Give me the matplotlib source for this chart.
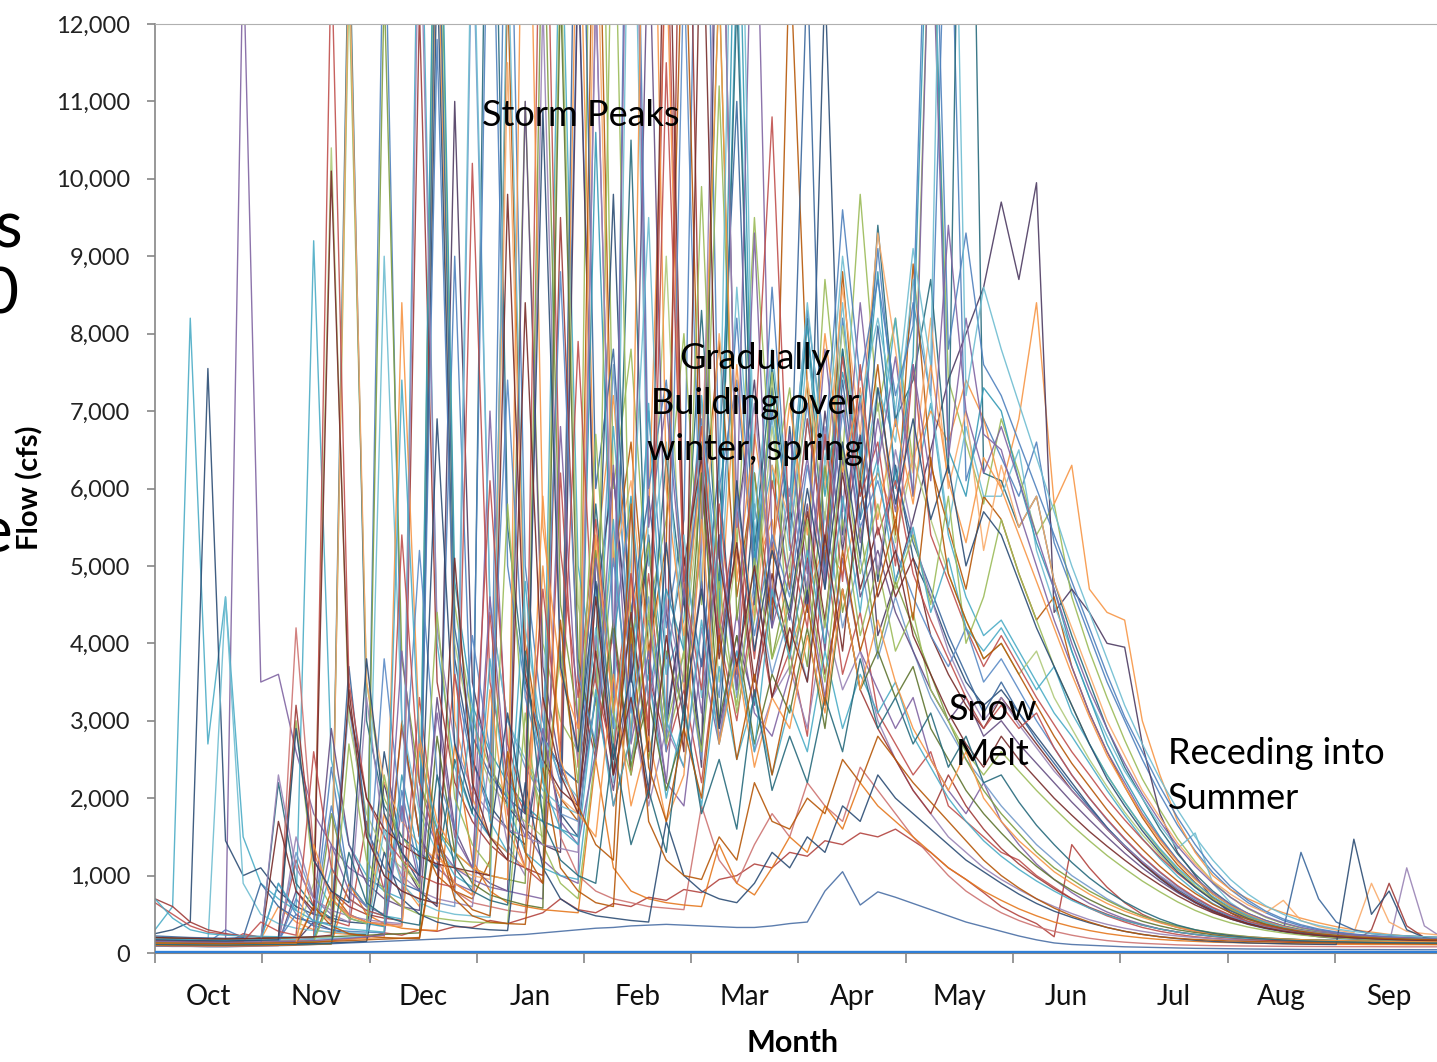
#daily flow by water year, one line per year
import matplotlib
matplotlib.use("Agg")
import matplotlib.pyplot as plt
from matplotlib.ticker import FuncFormatter

plt.rcParams['font.family'] = ['Lato', 'DejaVu Sans']

#flow (cfs) read every 5 days from Oct 1 (74 points per year)
days = list(range(0, 366, 5))
months = ['Oct', 'Nov', 'Dec', 'Jan', 'Feb', 'Mar',
          'Apr', 'May', 'Jun', 'Jul', 'Aug', 'Sep']

yr01 = [150, 140, 130, 135, 300, 200, 180, 900, 500, 350, 2400, 900,
        600, 14000, 3000, 1500, 1100, 9000, 2500, 1800, 16000, 5000, 3000, 2200,
        13000, 4500, 6200, 3600, 7000, 4200, 5600, 18000, 6000, 7400, 4800, 8600,
        5400, 7100, 5200, 8200, 6400, 9100, 6800, 8400, 7200, 15000, 6100, 6900,
        6400, 5900, 6600, 5300, 4700, 4100, 3500, 3000, 2500, 2050, 1650, 1320,
        1040, 820, 650, 520, 420, 350, 300, 265, 240, 222, 208, 197, 188, 182]
yr02 = [120, 110, 115, 105, 110, 250, 200, 170, 1200, 600, 420, 350,
        1700, 800, 600, 3300, 1300, 900, 750, 4400, 1800, 1100, 900, 6200,
        2400, 3600, 1900, 2800, 4900, 2600, 3400, 2200, 4100, 3000, 4600, 3300,
        3900, 2800, 5200, 3600, 4400, 3100, 2700, 2300, 2600, 1900, 1700, 1500,
        1300, 1200, 1000, 850, 700, 580, 480, 400, 330, 280, 240, 210,
        190, 175, 165, 155, 150, 145, 140, 138, 135, 132, 130, 128, 126, 125]
yr03 = [200, 180, 170, 160, 150, 160, 170, 160, 3000, 1000, 600, 12500,
        3500, 2000, 1500, 1200, 16000, 4500, 3000, 2400, 2000, 11000, 4000, 3000,
        2600, 20000, 6000, 7800, 4400, 5600, 8000, 4500, 11200, 5200, 9500, 6000,
        7300, 5100, 8700, 6400, 9800, 7000, 8200, 6300, 14000, 7400, 6600, 5800,
        6900, 6200, 5400, 5800, 4600, 3900, 3300, 2750, 2250, 1850, 1480, 1180,
        920, 720, 570, 460, 380, 320, 280, 250, 228, 212, 200, 190, 183, 177]
yr04 = [90, 95, 100, 110, 150, 13000, 3500, 3600, 2600, 1800, 1400, 1100,
        950, 850, 2900, 1500, 1100, 900, 800, 7000, 2400, 1600, 1200, 1000,
        900, 12500, 4000, 2500, 3600, 2200, 1900, 3800, 2700, 4400, 3100, 2800,
        3600, 4700, 3300, 5100, 3900, 3400, 2900, 3300, 2500, 2100, 1800, 2200,
        1700, 1400, 1150, 950, 780, 640, 530, 440, 370, 310, 270, 240,
        215, 200, 185, 175, 168, 160, 155, 150, 147, 144, 140, 138, 135, 132]
yr05 = [300, 600, 8200, 2700, 4600, 1500, 900, 700, 550, 9200, 2500, 1400,
        1000, 800, 700, 15000, 4000, 2400, 1800, 1500, 1300, 3800, 2200, 14000,
        5000, 3500, 6800, 3900, 5200, 3600, 4300, 7200, 4400, 12800, 5100, 6300,
        4700, 6900, 5300, 7800, 5600, 6400, 8200, 5900, 7100, 5400, 4600, 4100,
        4300, 3900, 3500, 3100, 2800, 2450, 2100, 1780, 1480, 1220, 990, 800,
        640, 520, 430, 360, 310, 272, 244, 226, 212, 201, 195, 190, 185, 180]
yr06 = [180, 170, 165, 160, 160, 170, 175, 600, 400, 300, 260, 240,
        230, 1800, 900, 600, 14000, 3000, 2000, 1500, 1300, 1100, 5000, 2500,
        14500, 5000, 7200, 4300, 5600, 13000, 4500, 6800, 4100, 7600, 4900, 5600,
        3900, 4600, 5300, 4900, 5800, 6200, 5600, 6400, 7000, 6600, 7400, 6900,
        6000, 6900, 8400, 5800, 6300, 4700, 4400, 4300, 3000, 2300, 1700, 1300,
        1000, 820, 700, 600, 520, 450, 390, 340, 300, 270, 240, 220, 210, 200]
yr07 = [90, 85, 85, 80, 80, 85, 90, 95, 100, 110, 120, 130,
        140, 150, 160, 170, 180, 190, 200, 210, 230, 240, 260, 280,
        300, 320, 330, 350, 360, 370, 360, 350, 340, 330, 330, 350,
        380, 400, 800, 1050, 620, 790, 720, 640, 560, 480, 400, 340,
        280, 220, 170, 130, 110, 100, 90, 80, 75, 70, 65, 60,
        58, 55, 52, 50, 48, 46, 45, 45, 44, 44, 43, 43, 42, 42]
yr08 = [110, 105, 100, 100, 105, 110, 115, 120, 130, 140, 160, 180,
        200, 260, 230, 300, 280, 340, 330, 420, 380, 450, 520, 700,
        560, 520, 640, 600, 720, 680, 820, 780, 950, 1000, 1150, 1100,
        1300, 1250, 1450, 1400, 1550, 1500, 1600, 1450, 1300, 1100, 950, 780,
        600, 480, 380, 210, 1400, 1100, 850, 650, 500, 400, 330, 280,
        240, 210, 190, 170, 160, 150, 140, 135, 130, 125, 120, 120, 115, 115]
yr09 = [250, 300, 400, 7550, 1450, 1000, 1100, 800, 600, 500, 450, 400,
        380, 2600, 1300, 900, 12800, 3800, 2500, 1900, 1600, 1400, 2800, 1800,
        1500, 3900, 9800, 3500, 5400, 2900, 4600, 2600, 6100, 3400, 5800, 4200,
        6800, 4500, 12600, 5400, 7200, 4800, 6300, 5100, 4600, 4000, 3500, 3200,
        3400, 3100, 2800, 2500, 2200, 1900, 1620, 1370, 1150, 960, 790, 650,
        530, 440, 370, 315, 275, 245, 222, 206, 193, 182, 173, 165, 158, 152]
yr10 = [140, 130, 125, 120, 120, 125, 130, 140, 150, 400, 300, 250,
        240, 2200, 1200, 800, 600, 11000, 3500, 2400, 1900, 1600, 1400, 1300,
        12800, 4500, 6200, 3500, 5200, 3000, 4600, 2400, 16000, 5500, 7400, 4500,
        5800, 4400, 7000, 5200, 6700, 4100, 4800, 5600, 6500, 7400, 8000, 8600,
        9700, 8700, 9950, 4400, 4700, 4400, 4000, 3950, 2700, 1800, 1300, 1000,
        700, 520, 400, 330, 280, 240, 210, 190, 180, 170, 160, 155, 150, 150]
yr11 = [160, 150, 145, 140, 140, 150, 160, 2200, 900, 600, 450, 13500,
        3000, 1900, 1500, 1300, 1100, 2500, 1800, 18000, 5500, 3500, 2800, 2400,
        2200, 5800, 3400, 10500, 3600, 6400, 4500, 8300, 4700, 12300, 5200, 7600,
        5600, 8200, 4900, 7800, 6100, 9400, 6900, 7400, 8700, 6200, 20000, 6200,
        6100, 5500, 5900, 4800, 4100, 3500, 2900, 2400, 2000, 1600, 1280, 1020,
        800, 630, 510, 420, 350, 300, 265, 240, 220, 205, 195, 188, 182, 177]
yr12 = [130, 125, 120, 120, 115, 120, 125, 130, 140, 160, 800, 500,
        400, 350, 3000, 1500, 1000, 800, 700, 1200, 12500, 4000, 2500, 2000,
        1700, 16000, 5000, 6600, 3900, 5300, 14000, 5500, 7900, 4600, 6200, 4300,
        13000, 7300, 4900, 8800, 6000, 7600, 5400, 8900, 6300, 5500, 4700, 5900,
        5600, 4900, 4300, 4600, 3700, 3100, 2600, 2150, 1750, 1420, 1140, 910,
        720, 580, 470, 390, 330, 285, 252, 228, 211, 198, 190, 183, 178, 172]
yr13 = [200, 190, 180, 175, 170, 180, 190, 200, 1300, 700, 500, 3200,
        1500, 1000, 800, 700, 650, 600, 13500, 4500, 3000, 2400, 2000, 1800,
        1700, 3300, 7600, 3200, 4600, 2700, 3900, 2500, 5400, 3300, 4800, 3600,
        4400, 3500, 5700, 4200, 5100, 3800, 4600, 3900, 3300, 2900, 2500, 2200,
        1900, 1650, 1400, 1200, 1000, 850, 700, 580, 480, 400, 340, 290,
        255, 230, 210, 195, 182, 172, 165, 160, 155, 150, 146, 142, 140, 138]
yr14 = [95, 90, 90, 88, 88, 90, 92, 95, 4200, 1300, 700, 500,
        400, 380, 360, 2800, 1200, 800, 650, 600, 550, 520, 3300, 1500,
        1000, 800, 700, 650, 600, 580, 560, 1900, 1200, 900, 1400, 1800,
        1500, 2200, 1900, 1700, 2400, 2100, 1800, 1500, 1250, 1000, 800, 650,
        520, 420, 340, 280, 230, 190, 160, 140, 125, 115, 105, 100,
        95, 92, 90, 88, 86, 85, 84, 83, 82, 82, 81, 80, 80, 80]
yr15 = [170, 160, 155, 150, 150, 160, 170, 180, 200, 900, 10400, 3000,
        1800, 1300, 1100, 900, 15000, 4000, 2800, 2200, 1900, 1700, 1500, 13000,
        4500, 3200, 5300, 2900, 4100, 9000, 3800, 6100, 3500, 5200, 4400, 6800,
        4900, 7400, 5600, 8100, 6000, 7100, 5300, 6400, 5600, 4900, 4300, 3800,
        4000, 3600, 3900, 3300, 2900, 2500, 2150, 1820, 1530, 1270, 1040, 850,
        690, 560, 460, 385, 328, 284, 250, 228, 211, 198, 189, 182, 177, 172]
yr16 = [110, 105, 100, 100, 98, 100, 105, 110, 1500, 700, 500, 400,
        3300, 1500, 1000, 800, 700, 650, 600, 2600, 1400, 1000, 12300, 3800,
        2500, 4100, 2300, 3200, 1900, 2900, 2400, 4200, 2800, 3900, 2600, 3300,
        3700, 2900, 4300, 3400, 3900, 3000, 2500, 2100, 1800, 1500, 1300, 1100,
        950, 820, 700, 600, 510, 430, 370, 320, 280, 245, 220, 200,
        185, 172, 160, 150, 142, 135, 130, 128, 126, 125, 124, 1100, 350, 200]
yr17 = [130, 125, 120, 118, 4600, 900, 500, 380, 320, 290, 270, 260,
        250, 9000, 3000, 1800, 1300, 1100, 14000, 4500, 3000, 2500, 2100, 1900,
        1800, 4700, 2200, 16000, 5000, 6600, 3900, 7100, 4200, 8600, 5400, 6900,
        5200, 7800, 6100, 8400, 5900, 7300, 6600, 8700, 7200, 5500, 6800, 5900,
        5900, 6500, 5200, 4500, 3900, 3300, 2800, 2350, 2000, 1650, 1350, 1550,
        900, 650, 500, 400, 335, 290, 258, 235, 218, 205, 195, 188, 182, 177]
yr18 = [140, 135, 130, 130, 128, 130, 135, 140, 150, 600, 400, 13000,
        3500, 2200, 1700, 1400, 1200, 1100, 1000, 950, 11500, 3800, 2500, 2000,
        1800, 14000, 5000, 6100, 3800, 5200, 3400, 4700, 8000, 5900, 4300, 6300,
        5600, 7400, 6000, 8600, 6700, 9300, 7800, 6200, 8200, 6000, 7000, 5200,
        6300, 5500, 5900, 4800, 4200, 3600, 3000, 2550, 2100, 1750, 1420, 1150,
        930, 760, 620, 520, 680, 420, 340, 295, 262, 900, 400, 280, 250, 230]
yr19 = [220, 210, 200, 195, 190, 200, 900, 600, 450, 400, 380, 3700,
        1600, 1100, 900, 800, 14500, 4200, 2800, 2300, 2000, 1800, 1700, 1600,
        17000, 6000, 7800, 4400, 5900, 3800, 5100, 3700, 6400, 11000, 4500, 7300,
        5500, 12800, 4700, 7400, 5600, 8100, 6200, 5300, 4700, 4100, 3600, 3100,
        3500, 3100, 2750, 2450, 2150, 1880, 1620, 1390, 1180, 990, 820, 680,
        560, 470, 400, 345, 300, 1300, 700, 400, 300, 250, 230, 220, 210, 200]
yr20 = [700, 600, 400, 300, 250, 220, 210, 200, 3200, 1200, 800, 600,
        500, 450, 420, 12200, 3500, 2200, 1700, 1400, 1200, 1100, 1000, 9500,
        3500, 2500, 4200, 2300, 3600, 2700, 18000, 6000, 4000, 5200, 3300, 4600,
        3900, 5100, 3600, 4700, 3400, 2900, 2500, 2100, 1800, 2300, 1900, 1600,
        1350, 1150, 980, 830, 700, 590, 500, 420, 360, 310, 270, 240,
        215, 195, 180, 168, 160, 152, 146, 141, 137, 300, 900, 350, 200, 170]
yr21 = [160, 150, 145, 140, 140, 145, 150, 160, 170, 180, 1800, 900,
        600, 12500, 3800, 2200, 1600, 1300, 1100, 1000, 950, 900, 14000, 4500,
        3000, 5200, 2700, 4300, 2500, 3900, 3100, 5600, 12600, 4300, 6200, 3800,
        4900, 3700, 6300, 4400, 5500, 3900, 4800, 4200, 3600, 3000, 2500, 2100,
        1800, 1550, 1300, 1100, 950, 800, 680, 570, 480, 410, 350, 300,
        262, 235, 212, 195, 182, 172, 165, 160, 157, 154, 152, 150, 148, 146]
yr22 = [120, 115, 110, 108, 105, 110, 115, 120, 800, 500, 2900, 1400,
        900, 700, 600, 550, 3300, 1600, 1100, 900, 800, 11000, 3700, 2400,
        1900, 3300, 2100, 3700, 13500, 4400, 3000, 4800, 2900, 4100, 3200, 5300,
        4300, 5800, 3900, 6400, 4600, 5200, 4400, 3900, 3400, 3000, 3300, 2800,
        3000, 2700, 2450, 2200, 1950, 1720, 1500, 1290, 1100, 930, 780, 650,
        540, 450, 380, 325, 285, 254, 230, 212, 198, 186, 177, 170, 163, 158]
yr23 = [150, 145, 140, 140, 135, 140, 145, 150, 160, 175, 700, 450,
        380, 340, 2300, 1200, 16500, 4800, 3200, 2600, 2200, 1900, 1700, 1600,
        1500, 10600, 4000, 5900, 3300, 4700, 3900, 6600, 4200, 15000, 5000, 7200,
        5600, 8100, 5900, 7500, 6400, 8800, 6000, 7700, 15000, 6500, 5900, 7300,
        7000, 6100, 5300, 4700, 3900, 3300, 2700, 2250, 1850, 1500, 1200, 960,
        760, 610, 490, 400, 335, 288, 255, 232, 215, 202, 192, 185, 180, 176]
yr24 = [100, 98, 96, 95, 95, 96, 98, 100, 105, 110, 115, 900,
        500, 380, 320, 300, 290, 2700, 1200, 800, 650, 600, 560, 540,
        520, 2500, 1100, 800, 700, 650, 620, 600, 1400, 900, 750, 1100,
        1500, 1300, 1900, 1600, 2200, 1900, 1700, 1500, 1300, 1100, 950, 800,
        680, 570, 480, 400, 340, 290, 250, 220, 195, 175, 160, 150,
        140, 135, 130, 125, 120, 118, 115, 113, 112, 110, 110, 108, 108, 106]
yr25 = [180, 170, 160, 155, 150, 155, 160, 170, 500, 350, 300, 280,
        270, 260, 2100, 1000, 11800, 3600, 2400, 15500, 5000, 3400, 2800, 2400,
        2200, 4800, 2900, 19000, 6000, 7400, 4800, 6900, 5100, 8200, 4900, 7000,
        5900, 8300, 6500, 9600, 7400, 8700, 7200, 8100, 16000, 7800, 9300, 7600,
        7200, 6600, 6000, 5400, 4800, 4200, 3600, 3050, 2600, 2150, 1750, 1400,
        1100, 860, 680, 540, 440, 365, 310, 272, 245, 225, 210, 198, 190, 184]
yr26 = [650, 500, 350, 270, 240, 220, 210, 200, 195, 190, 13000, 3500,
        2000, 1500, 1200, 1000, 900, 850, 10200, 3500, 2300, 1800, 16500, 5200,
        3300, 5600, 3100, 4900, 2800, 13800, 4800, 6800, 4100, 5700, 3800, 6100,
        4700, 6900, 5300, 7700, 5900, 6600, 5000, 7600, 5400, 4800, 4200, 3700,
        4100, 3700, 3300, 2950, 2600, 2300, 1990, 1720, 1470, 1240, 1030, 850,
        690, 565, 465, 390, 333, 290, 258, 234, 216, 202, 192, 184, 177, 172]
yr27 = [140, 135, 130, 128, 125, 130, 135, 140, 145, 150, 160, 2700,
        1200, 800, 600, 500, 450, 420, 400, 390, 380, 3100, 1400, 900,
        700, 2600, 14500, 4000, 5300, 2900, 3900, 2600, 4800, 3100, 4300, 7500,
        3600, 4800, 3500, 5600, 4100, 5000, 3900, 4400, 3400, 3000, 2600, 2300,
        2600, 2350, 2100, 1870, 1650, 1450, 1260, 1090, 930, 790, 660, 550,
        460, 390, 335, 292, 258, 232, 212, 197, 185, 175, 167, 160, 154, 148]
yr28 = [160, 155, 150, 145, 145, 150, 155, 160, 170, 180, 1400, 800,
        600, 500, 3900, 1900, 1400, 1100, 950, 850, 800, 750, 700, 6800,
        2900, 5100, 3300, 17500, 5500, 7100, 4600, 6200, 3900, 5600, 15000, 5200,
        6700, 4900, 7800, 5700, 8400, 6300, 7700, 5900, 14000, 6400, 8200, 6700,
        6500, 5700, 5000, 4300, 3700, 3100, 2600, 2200, 1800, 1480, 1200, 970,
        780, 630, 510, 420, 350, 298, 262, 238, 220, 206, 196, 188, 181, 176]
yr29 = [700, 450, 300, 250, 230, 220, 215, 210, 205, 200, 1100, 700,
        550, 480, 440, 2600, 1400, 1000, 850, 3800, 1900, 1300, 1100, 1000,
        950, 2900, 5600, 2400, 3600, 2000, 3100, 1900, 3700, 2500, 3300, 2300,
        3200, 2600, 3900, 2900, 3600, 3100, 3500, 2800, 2400, 2000, 1700, 1450,
        1250, 1080, 930, 800, 680, 580, 490, 420, 360, 310, 270, 240,
        218, 200, 188, 180, 174, 170, 167, 165, 163, 161, 159, 157, 156, 155]
yr30 = [150, 145, 140, 138, 135, 140, 145, 150, 155, 160, 170, 180,
        190, 200, 8400, 2800, 1700, 1300, 1100, 1000, 950, 17000, 5500, 3600,
        2900, 5400, 3100, 4600, 18500, 6000, 4100, 6300, 12500, 4800, 6700, 5100,
        7100, 5400, 8000, 6200, 7300, 5600, 6900, 5800, 7600, 6100, 5300, 6400,
        6000, 5400, 4800, 4200, 3600, 3050, 2550, 2150, 1780, 1460, 1180, 950,
        760, 610, 495, 405, 340, 290, 256, 232, 215, 202, 192, 185, 179, 175]
yr31 = [120, 118, 115, 112, 110, 112, 115, 118, 120, 125, 130, 140,
        150, 1300, 700, 500, 400, 350, 320, 300, 290, 2200, 1100, 700,
        550, 480, 450, 420, 400, 1700, 1000, 800, 700, 650, 900, 1300,
        1100, 1500, 1300, 1900, 1700, 2300, 2000, 1800, 1600, 1400, 1200, 1050,
        900, 760, 640, 540, 460, 390, 330, 280, 240, 210, 185, 165,
        150, 140, 130, 125, 120, 115, 112, 110, 1470, 500, 800, 300, 200, 160]
yr32 = [130, 128, 125, 122, 120, 125, 130, 1700, 800, 550, 10100, 3200,
        2000, 1600, 1400, 1250, 1150, 1100, 1050, 1000, 9800, 3600, 2500, 2100,
        1900, 3900, 2300, 4400, 2600, 15500, 5000, 6400, 3800, 5300, 3500, 4900,
        3900, 5700, 4300, 6200, 4700, 5500, 4600, 5100, 4100, 3600, 3200, 2900,
        3300, 3000, 2700, 2400, 2100, 1850, 1600, 1370, 1160, 970, 800, 660,
        545, 455, 385, 330, 288, 255, 230, 212, 198, 187, 178, 170, 164, 158]
yr33 = [200, 190, 185, 180, 180, 185, 190, 195, 200, 205, 210, 220,
        230, 240, 250, 260, 2800, 1300, 900, 750, 680, 620, 580, 12500,
        3800, 2600, 4300, 2400, 3300, 2100, 2900, 6200, 3000, 4100, 2700, 3600,
        3100, 4200, 2900, 4700, 3400, 3900, 3300, 3700, 2900, 2500, 2100, 1800,
        1550, 1320, 1120, 950, 810, 690, 580, 490, 410, 350, 300, 265,
        238, 218, 202, 190, 180, 172, 166, 160, 157, 154, 151, 149, 147, 145]
yr34 = [170, 165, 160, 158, 155, 160, 165, 170, 175, 180, 190, 200,
        220, 1600, 900, 650, 550, 500, 480, 460, 13200, 4200, 2800, 2300,
        2000, 4200, 2600, 5100, 9500, 3600, 5400, 3300, 6000, 17500, 5600, 7800,
        5700, 8400, 6300, 9000, 7100, 8200, 7000, 9100, 7600, 19000, 7200, 8600,
        7800, 7100, 6400, 5700, 5000, 4400, 3800, 3200, 2700, 2250, 1850, 1500,
        1200, 950, 760, 610, 500, 415, 355, 310, 278, 252, 234, 220, 210, 202]
yr35 = [110, 108, 105, 104, 102, 104, 106, 108, 110, 600, 350, 250,
        220, 200, 190, 185, 1500, 700, 480, 400, 380, 370, 2400, 1100,
        800, 650, 600, 4200, 1700, 1200, 1000, 950, 1500, 1200, 2200, 1700,
        1600, 2000, 1800, 2500, 2200, 2800, 2500, 2200, 1950, 1700, 1450, 1200,
        1000, 840, 700, 580, 480, 400, 330, 280, 240, 210, 190, 175,
        165, 155, 150, 145, 140, 135, 132, 130, 128, 126, 125, 124, 122, 120]
yr36 = [150, 145, 140, 140, 138, 140, 145, 2300, 1100, 700, 550, 480,
        430, 400, 380, 14000, 4200, 2700, 2100, 1800, 1600, 1500, 1400, 1350,
        1300, 12400, 4200, 5700, 3200, 4500, 3500, 5200, 16000, 5500, 7100, 4600,
        6000, 4700, 6800, 5300, 7100, 4900, 6500, 5400, 4600, 3900, 3400, 3000,
        3300, 2950, 2650, 2350, 2100, 1850, 1600, 1380, 1180, 1000, 840, 700,
        580, 480, 405, 345, 300, 265, 238, 218, 203, 192, 183, 176, 171, 168]
yr37 = [130, 125, 120, 118, 115, 118, 120, 125, 700, 400, 1900, 900,
        600, 3800, 1700, 5200, 2300, 1600, 4100, 2600, 7400, 3300, 2400, 8800,
        3600, 2700, 5100, 3100, 4300, 2600, 12800, 4700, 3300, 5900, 4100, 5400,
        4600, 6300, 4900, 7000, 5500, 6100, 5200, 4600, 4100, 3700, 4200, 3500,
        3800, 3400, 3000, 2650, 2300, 2000, 1720, 1470, 1240, 1040, 860, 710,
        580, 480, 400, 340, 295, 260, 234, 214, 199, 188, 179, 172, 166, 162]
yr38 = [160, 155, 150, 148, 145, 150, 400, 280, 230, 2600, 1100, 700,
        550, 480, 5400, 2200, 1400, 3600, 1900, 6100, 2700, 1900, 4700, 2600,
        7900, 3500, 2500, 4900, 2900, 11500, 4800, 3400, 5800, 3600, 6600, 10800,
        5300, 4200, 6700, 4800, 7600, 5400, 6100, 4900, 4300, 3800, 3300, 2900,
        3200, 2900, 3100, 2650, 2300, 2000, 1730, 1480, 1250, 1050, 870, 720,
        590, 490, 410, 350, 303, 266, 238, 217, 201, 189, 179, 171, 164, 158]
yr39 = [140, 135, 130, 128, 126, 130, 132, 135, 140, 150, 700, 450,
        380, 2300, 1200, 850, 4400, 2000, 1400, 1100, 5800, 2600, 1800, 3900,
        2200, 6700, 3100, 2300, 4400, 2700, 3600, 9900, 4300, 3200, 5100, 3800,
        4500, 5600, 4200, 6500, 4900, 5800, 4700, 5400, 4500, 5900, 4000, 4600,
        5600, 4900, 4300, 3700, 3200, 2700, 2300, 1950, 1620, 1330, 1080, 870,
        700, 565, 460, 380, 322, 278, 246, 224, 207, 195, 186, 179, 174, 170]
yr40 = [150, 145, 140, 138, 136, 140, 142, 146, 150, 160, 175, 190,
        210, 230, 1900, 900, 3100, 1500, 1100, 4600, 2100, 1500, 2900, 1700,
        1400, 2600, 6300, 2700, 3900, 2200, 4700, 3100, 5400, 3400, 9300, 4200,
        5100, 6400, 4800, 7200, 5300, 6900, 5700, 7600, 6100, 9400, 7000, 6200,
        6800, 6100, 5400, 4700, 4000, 3400, 2900, 2450, 2050, 1700, 1380, 1120,
        900, 720, 580, 470, 390, 330, 288, 256, 233, 216, 203, 194, 187, 182]
yr41 = [180, 175, 170, 165, 160, 165, 170, 900, 550, 420, 350, 310,
        290, 270, 7400, 2600, 1600, 1200, 3200, 1700, 1300, 4800, 2200, 1600,
        1400, 3400, 1900, 2800, 7100, 3000, 2400, 4300, 2700, 3900, 2600, 4700,
        3800, 5200, 4000, 5900, 4400, 6300, 4800, 5500, 4400, 5100, 4200, 3900,
        4200, 3800, 3400, 3700, 3100, 2700, 2300, 1950, 1630, 1350, 1100, 900,
        730, 590, 480, 395, 330, 285, 252, 230, 212, 199, 190, 183, 177, 172]
yr42 = [120, 118, 115, 113, 112, 115, 118, 120, 125, 1400, 700, 480,
        400, 360, 340, 2700, 1300, 900, 750, 3400, 1600, 1100, 5900, 2500,
        1800, 1500, 3600, 1900, 2800, 1700, 2300, 5600, 2700, 3800, 2400, 3300,
        2900, 4100, 3100, 4700, 3400, 4300, 3500, 2900, 2500, 2100, 2600, 2000,
        1700, 1450, 1250, 1050, 900, 760, 640, 540, 460, 390, 330, 285,
        250, 225, 205, 190, 178, 170, 164, 160, 156, 153, 151, 149, 147, 146]
yr43 = [170, 165, 160, 158, 155, 160, 165, 170, 2900, 1200, 800, 650,
        3800, 1800, 1300, 1000, 6900, 2700, 1900, 1500, 3100, 1800, 10900, 3700,
        2600, 4800, 2500, 3600, 2100, 5300, 3100, 4700, 2900, 6100, 3900, 5200,
        4400, 6000, 4700, 6600, 5100, 7300, 5800, 6900, 5600, 6300, 5000, 5700,
        5400, 4800, 4200, 3700, 3200, 2700, 2250, 1900, 1580, 1300, 1050, 850,
        680, 545, 445, 370, 315, 272, 240, 218, 202, 190, 182, 175, 171, 168]
yr44 = [200, 195, 190, 185, 183, 185, 190, 195, 200, 210, 230, 3400,
        1500, 1000, 800, 700, 640, 5100, 2200, 1500, 1200, 8400, 3300, 2300,
        1800, 4600, 2300, 3300, 2000, 4100, 2600, 14200, 5100, 3700, 5000, 3300,
        4200, 3500, 5400, 3900, 6100, 4600, 5200, 4100, 3600, 3100, 2700, 2400,
        2800, 2500, 2250, 2000, 1780, 1570, 1380, 1200, 1030, 880, 740, 620,
        520, 440, 375, 322, 282, 252, 228, 210, 196, 185, 176, 169, 163, 160]
yr45 = [110, 108, 106, 105, 104, 106, 108, 110, 112, 115, 120, 1300,
        650, 480, 400, 360, 2300, 1100, 800, 680, 620, 3900, 1700, 1200,
        1000, 900, 2700, 1400, 2100, 1300, 3200, 1800, 2500, 1600, 3400, 2100,
        2800, 2200, 3300, 2600, 3800, 2900, 3300, 2700, 3100, 2400, 2800, 2200,
        2300, 1950, 1650, 1400, 1170, 970, 800, 660, 540, 440, 360, 300,
        255, 225, 200, 182, 168, 158, 150, 145, 140, 136, 133, 130, 128, 126]
yr46 = [130, 128, 125, 124, 122, 125, 127, 130, 135, 140, 150, 160,
        170, 180, 190, 200, 1600, 800, 560, 480, 2600, 1300, 900, 4300,
        1900, 1400, 1200, 5800, 2400, 1700, 2900, 2000, 4100, 2500, 3600, 2300,
        3400, 4500, 3200, 5200, 3900, 4700, 5600, 4300, 6400, 4900, 4300, 3800,
        4000, 3600, 3200, 2800, 2450, 2150, 1850, 1580, 1340, 1120, 930, 770,
        630, 520, 435, 368, 318, 280, 250, 228, 211, 198, 188, 180, 174, 169]

#the flat near-zero series along the axis
flat_days = [0, 365]
flat_flow = [10, 10]

years = [yr01, yr02, yr03, yr04, yr05, yr06, yr07, yr08, yr09, yr10, yr11, yr12,
         yr13, yr14, yr15, yr16, yr17, yr18, yr19, yr20, yr21, yr22, yr23, yr24,
         yr25, yr26, yr27, yr28, yr29, yr30, yr31, yr32, yr33, yr34, yr35, yr36,
         yr37, yr38, yr39, yr40, yr41, yr42, yr43, yr44, yr45, yr46]

line_colors = ['#4F81BD', '#C0504D', '#9BBB59', '#8064A2', '#4BACC6', '#F79646',
               '#4A6FA5', '#B3443F', '#2C4D75', '#4D3B62', '#276A7C', '#B65708',
               '#729ACA', '#CD7371', '#AFC97A', '#9983B5', '#6FBDD1', '#F9AB6B',
               '#3A679C', '#9F3B38', '#7E9D40', '#664F83', '#359AB5', '#E5781E',
               '#4F81BD', '#C0504D', '#9BBB59', '#8064A2', '#4BACC6', '#F79646',
               '#2C4D75', '#772C2A', '#5F7530', '#6FBDD1', '#B65708', '#9983B5',
               '#5B8BC6', '#C0504D', '#9BBB59', '#8064A2', '#4BACC6', '#F79646',
               '#2C4D75', '#772C2A', '#276A7C', '#B65708']

W, H = 1437, 1062
fig = plt.figure(figsize=(W / 100, H / 100), dpi=100)
ax = fig.add_axes([155 / W, 109 / H, 1287 / W, 929 / H])

for flow, c in zip(years, line_colors):
    ax.plot(days, flow, color=c, lw=1.0, alpha=0.9)
ax.plot(flat_days, flat_flow, color='#2F7FD8', lw=2.4, zorder=5)

ax.set_xlim(0, 365)
ax.set_ylim(0, 12000)
ax.set_yticks(range(0, 12001, 1000))
ax.yaxis.set_major_formatter(FuncFormatter(lambda v, p: f'{int(v):,}'))

edges = [365 / 12 * k for k in range(13)]
centers = [365 / 12 * (k + 0.5) for k in range(12)]
ax.set_xticks(edges)
ax.set_xticklabels([])
ax.set_xticks(centers, minor=True)
ax.set_xticklabels(months, minor=True)

ax.tick_params(axis='x', which='major', length=7, width=1.2, color='#868686')
ax.tick_params(axis='x', which='minor', length=0, pad=22, labelsize=20, labelcolor='#111111')
ax.tick_params(axis='y', length=6, width=1.2, color='#868686', pad=12,
               labelsize=17, labelcolor='#222222')

ax.spines['right'].set_visible(False)
ax.spines['top'].set_color('#B0B0B0')
ax.spines['left'].set_color('#868686')
ax.spines['left'].set_linewidth(1.2)
ax.spines['bottom'].set_color('#868686')

#axis titles
fig.text(30 / W, 1 - 488 / H, 'Flow (cfs)', rotation=90, ha='center', va='center',
         fontsize=21, fontweight='bold')
fig.text(793 / W, 1 - 1043 / H, 'Month', ha='center', va='center',
         fontsize=22, fontweight='bold')

#annotations
fig.text(581 / W, 1 - 115 / H, 'Storm Peaks', ha='center', va='center', fontsize=26)
fig.text(755 / W, 1 - 404 / H, 'Gradually\nBuilding over\nwinter, spring',
         ha='center', va='center', fontsize=26, linespacing=1.45)
fig.text(993 / W, 1 - 732 / H, 'Snow\nMelt', ha='center', va='center',
         fontsize=26, linespacing=1.45)
fig.text(1168 / W, 1 - 776 / H, 'Receding into\nSummer', ha='left', va='center',
         fontsize=26, linespacing=1.45)

#slide text cut off at the left edge
fig.text(22 / W, 1 - 247 / H, 's', ha='right', va='baseline', fontsize=46)
fig.text(18 / W, 1 - 314 / H, '0', ha='right', va='baseline', fontsize=46)
fig.text(12 / W, 1 - 552 / H, 'e', ha='right', va='baseline', fontsize=46)

fig.savefig('out.png', dpi=100)
